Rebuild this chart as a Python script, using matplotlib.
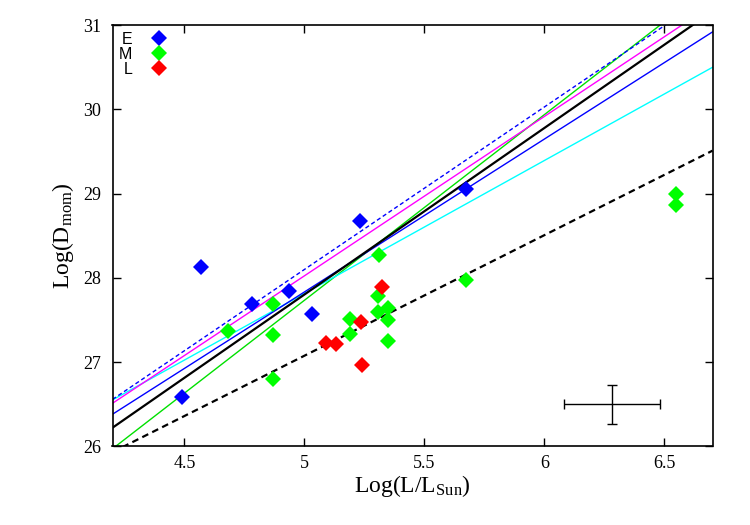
import numpy as np
import matplotlib
matplotlib.use("Agg")
import matplotlib.pyplot as plt

plt.rcParams['font.family'] = ['Liberation Serif', 'DejaVu Serif']
plt.rcParams['mathtext.fontset'] = 'custom'
plt.rcParams['mathtext.rm'] = 'Liberation Serif'
plt.rcParams['mathtext.it'] = 'Liberation Serif:italic'

# groupe E
e_x = [4.49, 4.57, 4.78, 4.935, 5.03, 5.23, 5.675]
e_y = [26.58, 28.13, 27.69, 27.84, 27.57, 28.68, 29.05]

# groupe M
m_x = [4.68, 4.87, 4.87, 4.87, 5.19, 5.19, 5.31, 5.305, 5.305,
       5.35, 5.35, 5.35, 5.675, 6.55, 6.55]
m_y = [27.37, 27.69, 27.32, 26.80, 27.51, 27.33, 28.27, 27.79, 27.59,
       27.64, 27.50, 27.25, 27.98, 28.99, 28.86]

# groupe L
l_x = [5.325, 5.235, 5.09, 5.13, 5.24]
l_y = [27.89, 27.48, 27.23, 27.21, 26.97]

# droites d'ajustement : y = a + b * (x - 4.2)
fit_a = [25.97, 26.55, 26.51, 26.38, 26.22, 26.556, 25.93]
fit_b = [2.205, 1.58, 1.893, 1.816, 1.978, 1.93, 1.432]
fit_color = ['#00e000', 'cyan', 'magenta', 'blue', 'black', 'blue', 'black']
fit_style = ['-', '-', '-', '-', '-', '--', '--']
fit_width = [1.0, 1.0, 1.0, 1.0, 1.6, 1.0, 1.6]

# barre d'erreur typique
err_x, err_y = 6.28, 26.5
err_dx, err_dy = 0.2, 0.23

fig = plt.figure(figsize=(7.5, 5.25), dpi=100)
ax = fig.add_axes([0.15, 0.15, 0.8, 0.802])

xx = np.array([4.2, 6.7])
for a, b, c, ls, lw in zip(fit_a, fit_b, fit_color, fit_style, fit_width):
    ax.plot(xx, a + b * (xx - 4.2), color=c, ls=ls, lw=lw,
            dashes=(3, 2) if ls == '--' else (None, None))

ax.plot(e_x, e_y, 'D', color='#0000ff', ms=8, mew=0, label='E', zorder=5)
ax.plot(m_x, m_y, 'D', color='#00ff00', ms=8, mew=0, label='M', zorder=5)
ax.plot(l_x, l_y, 'D', color='#ff0000', ms=8, mew=0, label='L', zorder=5)

ax.errorbar(err_x, err_y, xerr=err_dx, yerr=err_dy, color='black',
            lw=1, capsize=3.5, capthick=1)

ax.set_xlim(4.2, 6.7)
ax.set_ylim(26, 31)
ax.set_xticks([4.5, 5, 5.5, 6, 6.5])
ax.set_xticklabels(['4.5', '5', '5.5', '6', '6.5'])
ax.set_yticks([26, 27, 28, 29, 30, 31])
ax.tick_params(direction='in', length=6, width=1, top=True, right=True,
               labelsize=13)
ax.tick_params(axis='x', pad=6)
ax.tick_params(axis='y', pad=8)
for s in ax.spines.values():
    s.set_linewidth(1.2)

ax.set_xlabel('Log(L/L$_{\\rm Sun}$)', fontsize=17, labelpad=1)
ax.set_ylabel('Log(D$_{\\rm mom}$)', fontsize=17, labelpad=5)

leg = ax.legend(loc='upper left', frameon=False, markerfirst=False,
                prop={'family': 'Liberation Sans', 'size': 11.5},
                handlelength=1.0, handletextpad=1.2, labelspacing=0.0,
                borderaxespad=0.2, borderpad=0.2)

fig.savefig('out.png', dpi=100)
